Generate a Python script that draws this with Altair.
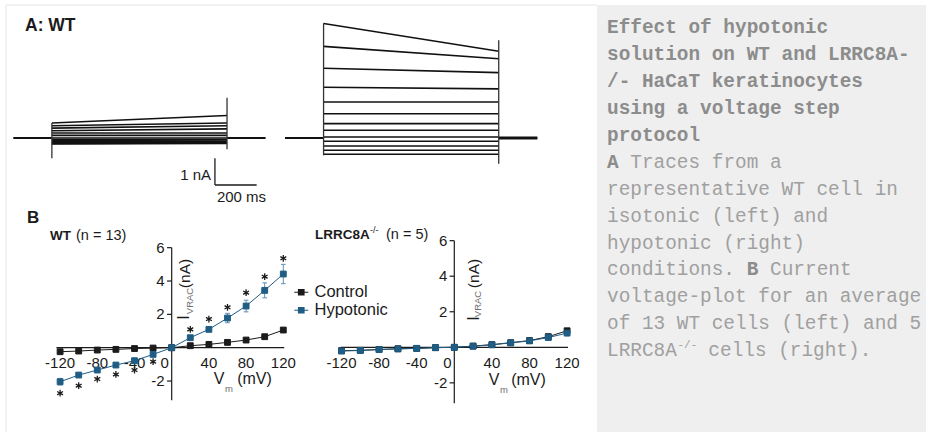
import altair as alt
import pandas as pd

# ---------------------------------------------------------------- data
# step potentials of the voltage protocol (mV)
volts = [-120, -100, -80, -60, -40, -20, 0, 20, 40, 60, 80, 100, 120]

# B, WT mean current-voltage relation (nA) and SEM
wt_control = [-0.24, -0.20, -0.14, -0.10, -0.05, -0.02, 0.00, 0.12, 0.20, 0.32, 0.46, 0.66, 1.06]
wt_control_sem = [0.04, 0.03, 0.03, 0.02, 0.02, 0.02, 0.00, 0.02, 0.03, 0.04, 0.05, 0.07, 0.10]
wt_hypo = [-2.04, -1.64, -1.34, -1.04, -0.78, -0.40, 0.00, 0.60, 1.10, 1.78, 2.50, 3.44, 4.42]
wt_hypo_sem = [0.20, 0.12, 0.12, 0.08, 0.14, 0.06, 0.00, 0.10, 0.12, 0.28, 0.35, 0.45, 0.58]

# B, LRRC8A-/- mean current-voltage relation (nA) and SEM
ko_control = [-0.19, -0.17, -0.12, -0.08, -0.06, -0.02, 0.00, 0.07, 0.15, 0.26, 0.38, 0.60, 0.93]
ko_control_sem = [0.02, 0.02, 0.02, 0.01, 0.01, 0.01, 0.00, 0.01, 0.02, 0.03, 0.04, 0.06, 0.08]
ko_hypo = [-0.21, -0.18, -0.13, -0.09, -0.06, -0.02, 0.00, 0.06, 0.14, 0.25, 0.36, 0.55, 0.80]
ko_hypo_sem = [0.02, 0.02, 0.02, 0.02, 0.01, 0.01, 0.00, 0.01, 0.02, 0.03, 0.05, 0.08, 0.15]

# significance markers (WT, hypotonic vs control): potential and drawn level (nA)
star_volts = [-120, -100, -80, -60, -40, -20, 20, 40, 60, 80, 100, 120]
star_level = [-2.73, -2.28, -1.88, -1.60, -1.34, -0.84, 1.10, 1.72, 2.42, 3.30, 4.26, 5.36]

# A, representative WT sweeps: current at step onset / step end (nA), one per potential
iso_on = [-0.22, -0.20, -0.18, -0.14, -0.10, -0.06, 0.00, 0.10, 0.19, 0.27, 0.37, 0.46, 0.56]
iso_off = [-0.20, -0.19, -0.17, -0.14, -0.11, -0.06, 0.00, 0.10, 0.19, 0.34, 0.46, 0.56, 0.84]
hypo_on = [-0.61, -0.46, -0.30, -0.12, 0.04, 0.29, 0.54, 0.91, 1.35, 1.90, 2.61, 3.43, 4.29]
hypo_off = [-0.61, -0.46, -0.30, -0.12, 0.04, 0.29, 0.54, 0.91, 1.35, 1.84, 2.45, 2.97, 3.25]

# protocol timing (ms)
t_sweep_start, t_step_on, t_step_off, t_sweep_end = 0, 185, 1025, 1210

# capacitive transients at step edges: (time, top nA, bottom nA)
iso_transients = [(t_step_on, 0.56, -0.76), (t_step_off, 1.51, -0.42)]
hypo_transients = [(t_step_on, 4.30, -0.65), (t_step_off, 3.66, -0.96)]

# calibration bar: 1 nA / 200 ms, anchored at (ms, nA)
bar_t, bar_i, bar_nA, bar_ms = 967, -0.76, 1.0, 200

y_ticks = [6, 4, 2, -2]
x_ticks = [-120, -80, -40, 40, 80, 120]

# ---------------------------------------------------------------- style
BLACK = "#1b1b1b"
BLUE = "#1f5d84"
ERR_BLUE = "#5b8fb5"
SANS = "Liberation Sans"
MONO = "Liberation Mono"
SERIES = ["Control", "Hypotonic"]


def sc(domain, rng):
    return alt.Scale(domain=domain, range=rng, nice=False, zero=False)


WT_X = sc([-130, 130], [50.8, 292.6])
WT_Y = sc([-4, 7], [414.4, 231.0])
KO_X = sc([-130, 130], [332.1, 576.5])
KO_Y = sc([-4, 7], [418.4, 222.9])
TR_Y = sc([-2, 5], [191.4, 4.5])
ISO_X = sc([0, 1210], [13.3, 265.6])
HYP_X = sc([0, 1210], [285.0, 537.3])

AST = "M0,-1L0,1M-0.87,-0.5L0.87,0.5M-0.87,0.5L0.87,-0.5"
LEG_SYMBOL = "M-1,0L1,0M-0.4,-0.4L0.4,-0.4L0.4,0.4L-0.4,0.4Z"

LEG = alt.Legend(
    orient="none", legendX=293, legendY=284, title=None,
    symbolType=LEG_SYMBOL, symbolSize=196, symbolStrokeWidth=1.1,
    labelFont=SANS, labelFontSize=16.5, labelColor=BLACK,
    rowPadding=1, labelOffset=5, padding=0, symbolOpacity=1,
)
FILL = alt.Fill("series:N", scale=alt.Scale(domain=SERIES, range=[BLACK, BLUE]), legend=LEG)
STROKE = alt.Stroke("series:N", scale=alt.Scale(domain=SERIES, range=[BLACK, BLUE]), legend=LEG)


def X(f, s):
    return alt.X(f, type="quantitative", scale=s, axis=None)


def Y(f, s):
    return alt.Y(f, type="quantitative", scale=s, axis=None)


def label(text, x, y, size, weight="normal", color=BLACK, angle=0,
          align="center", baseline="middle", font=SANS):
    return alt.Chart(pd.DataFrame({"t": [text]})).mark_text(
        font=font, fontSize=size, fontWeight=weight, color=color, angle=angle,
        align=align, baseline=baseline,
    ).encode(x=alt.value(x), y=alt.value(y), text="t:N")


# ---------------------------------------------------------------- panel A
def trace_group(xs, on, off, transients, thick_tail=False):
    layers = []
    base = pd.DataFrame({
        "seg": [0, 0, 1, 1],
        "t": [t_sweep_start, t_step_on, t_step_off, t_sweep_end],
        "i": [0, 0, 0, 0],
    })
    layers.append(alt.Chart(base).mark_line(color="#111", strokeWidth=2).encode(
        x=X("t", xs), y=Y("i", TR_Y), detail="seg:N"))
    if thick_tail:
        tail = base[base.seg == 1]
        layers.append(alt.Chart(tail).mark_line(color="#111", strokeWidth=3.2).encode(
            x=X("t", xs), y=Y("i", TR_Y)))
    rows = []
    for k, v in enumerate(volts):
        rows.append({"sweep": v, "t": t_step_on, "i": on[k]})
        rows.append({"sweep": v, "t": t_step_off, "i": off[k]})
    layers.append(alt.Chart(pd.DataFrame(rows)).mark_line(color="#111", strokeWidth=1.6).encode(
        x=X("t", xs), y=Y("i", TR_Y), detail="sweep:N"))
    tr = pd.DataFrame(transients, columns=["t", "top", "bot"])
    layers.append(alt.Chart(tr).mark_rule(color="#333", strokeWidth=1.3).encode(
        x=X("t", xs), y=Y("top", TR_Y), y2="bot:Q"))
    return layers


layers = []

# frame and caption panel
layers.append(alt.Chart(pd.DataFrame({"a": [0]})).mark_rect(color="#efefef").encode(
    x=alt.value(597), x2=alt.value(926), y=alt.value(5), y2=alt.value(432)))
layers.append(alt.Chart(pd.DataFrame({"a": [0]})).mark_rule(color="#e6e6e6", strokeWidth=1).encode(
    x=alt.value(6), x2=alt.value(597), y=alt.value(5)))
layers.append(alt.Chart(pd.DataFrame({"a": [0]})).mark_rule(color="#e6e6e6", strokeWidth=1).encode(
    x=alt.value(6), y=alt.value(5), y2=alt.value(432)))

layers += trace_group(ISO_X, iso_on, iso_off, iso_transients)
layers += trace_group(HYP_X, hypo_on, hypo_off, hypo_transients, thick_tail=True)

# calibration bar
bar = pd.DataFrame({"t0": [bar_t, bar_t], "t1": [bar_t, bar_t + bar_ms],
                    "i0": [bar_i, bar_i - bar_nA], "i1": [bar_i - bar_nA, bar_i - bar_nA]})
layers.append(alt.Chart(bar).mark_rule(color=BLACK, strokeWidth=1.3).encode(
    x=X("t0", ISO_X), x2="t1:Q", y=Y("i0", TR_Y), y2="i1:Q"))
layers.append(label("1 nA", 211, 175, 15, align="right"))
layers.append(label("200 ms", 241.5, 197, 15))
layers.append(label("A: WT", 25, 26, 17.5, weight="bold", align="left"))


# ---------------------------------------------------------------- panel B
def iv_panel(xs, ys, ctl, ctl_sem, hyp, hyp_sem, ybot, xl, stars=False):
    out = []
    # axes through the origin
    out.append(alt.Chart(pd.DataFrame({"a": [xl[0]], "b": [xl[1]], "z": [0]})).mark_rule(
        color=BLACK, strokeWidth=1.2).encode(x=X("a", xs), x2="b:Q", y=Y("z", ys)))
    out.append(alt.Chart(pd.DataFrame({"a": [ybot], "b": [6], "z": [0]})).mark_rule(
        color=BLACK, strokeWidth=1.2).encode(x=X("z", xs), y=Y("a", ys), y2="b:Q"))
    yt = pd.DataFrame({"y": y_ticks, "a": [-5] * len(y_ticks), "b": [0] * len(y_ticks),
                       "lab": [str(v) for v in y_ticks], "z": [0] * len(y_ticks)})
    out.append(alt.Chart(yt).mark_rule(color=BLACK, strokeWidth=1.2).encode(
        x=X("a", xs), x2="b:Q", y=Y("y", ys)))
    out.append(alt.Chart(yt).mark_text(font=SANS, fontSize=15, color=BLACK, align="right",
                                       baseline="middle", dx=-7).encode(
        x=X("z", xs), y=Y("y", ys), text="lab:N"))
    xt = pd.DataFrame({"x": x_ticks, "lab": [str(v) for v in x_ticks], "z": [0] * len(x_ticks)})
    out.append(alt.Chart(xt).mark_text(font=SANS, fontSize=15, color=BLACK, align="center",
                                       baseline="middle", dy=15.5).encode(
        x=X("x", xs), y=Y("z", ys), text="lab:N"))
    out.append(alt.Chart(pd.DataFrame({"x": [0], "lab": ["0"], "z": [0]})).mark_text(
        font=SANS, fontSize=15, color=BLACK, align="center", baseline="middle",
        dy=15.5, dx=-7).encode(x=X("x", xs), y=Y("z", ys), text="lab:N"))

    df = pd.concat([
        pd.DataFrame({"v": volts, "i": ctl, "sem": ctl_sem, "series": "Control"}),
        pd.DataFrame({"v": volts, "i": hyp, "sem": hyp_sem, "series": "Hypotonic"}),
    ], ignore_index=True)
    df["lo"] = df["i"] - df["sem"]
    df["hi"] = df["i"] + df["sem"]
    df["cl"] = df["v"] - 2.5
    df["cr"] = df["v"] + 2.5

    for name, col, ecol in [("Control", BLACK, "#555"), ("Hypotonic", BLUE, ERR_BLUE)]:
        d = df[df.series == name]
        out.append(alt.Chart(d).mark_rule(color=ecol, strokeWidth=1).encode(
            x=X("v", xs), y=Y("lo", ys), y2="hi:Q"))
        for end in ["lo", "hi"]:
            out.append(alt.Chart(d).mark_rule(color=ecol, strokeWidth=1).encode(
                x=X("cl", xs), x2="cr:Q", y=Y(end, ys)))
        out.append(alt.Chart(d).mark_line(color=col, strokeWidth=1).encode(
            x=X("v", xs), y=Y("i", ys)))

    out.append(alt.Chart(df).mark_point(shape="square", filled=True, size=34, strokeWidth=1,
                                        opacity=1).encode(
        x=X("v", xs), y=Y("i", ys), fill=FILL, stroke=STROKE))
    if stars:
        st = pd.DataFrame({"v": star_volts, "i": star_level})
        out.append(alt.Chart(st).mark_point(shape=AST, filled=False, size=46, color=BLACK,
                                            strokeWidth=1.3, opacity=1).encode(
            x=X("v", xs), y=Y("i", ys)))
    return out


layers += iv_panel(WT_X, WT_Y, wt_control, wt_control_sem, wt_hypo, wt_hypo_sem,
                   -3.15, [-124, 121], stars=True)
layers += iv_panel(KO_X, KO_Y, ko_control, ko_control_sem, ko_hypo, ko_hypo_sem,
                   -3.15, [-121, 121])

# panel B titles and axis titles
layers.append(label("B", 27, 218, 17, weight="bold", align="left"))
layers.append(label("WT", 50, 236, 13.5, weight="bold", align="left"))
layers.append(label("(n = 13)", 76, 236, 14.5, align="left"))
layers.append(label("LRRC8A", 315, 235, 13.5, weight="bold", align="left"))
layers.append(label("-/-", 370, 230, 9, align="left"))
layers.append(label("(n = 5)", 386, 235, 14.5, align="left"))

for (ix, iy, sx, sy, nx, ny) in [(184, 317.5, 189.5, 301, 185, 273.5),
                                  (473.5, 318.5, 478, 304, 473.5, 273.5)]:
    layers.append(label("I", ix, iy, 16, angle=270))
    layers.append(label("VRAC", sx, sy, 9.5, color="#6f6f6f", angle=270))
    layers.append(label("(nA)", nx, ny, 15.5, angle=270))

for (vx, vy, mx, my, px) in [(219, 379, 229, 389, 254.5), (494, 380, 504, 390, 528.5)]:
    layers.append(label("V", vx, vy, 16))
    layers.append(label("m", mx, my, 9.5, color="#6f6f6f"))
    layers.append(label("(mV)", px, vy, 16))

# ---------------------------------------------------------------- caption text
LINE_Y = sc([0, 12], [33.3, 33.3 + 12 * 26.9])
COL_X = sc([0, 27], [607, 607 + 27 * 11.65])

caption_bold = [
    (0, 0, "Effect of hypotonic"),
    (1, 0, "solution on WT and LRRC8A-"),
    (2, 0, "/- HaCaT keratinocytes"),
    (3, 0, "using a voltage step"),
    (4, 0, "protocol"),
    (5, 0, "A"),
    (9, 12, "B"),
]
caption_regular = [
    (5, 2, "Traces from a"),
    (6, 0, "representative WT cell in"),
    (7, 0, "isotonic (left) and"),
    (8, 0, "hypotonic (right)"),
    (9, 0, "conditions."),
    (9, 14, "Current"),
    (10, 0, "voltage-plot for an average"),
    (11, 0, "of 13 WT cells (left) and 5"),
    (12, 0, "LRRC8A"),
    (12, 8.7, "cells (right)."),
]
caption_super = [(12, 6.05, "-/-")]

for rows, weight, color, size, dy in [
    (caption_bold, "bold", "#8c8c8c", 19.4, 0),
    (caption_regular, "normal", "#a0a0a0", 19.4, 0),
    (caption_super, "normal", "#a0a0a0", 11, -8),
]:
    d = pd.DataFrame(rows, columns=["line", "col", "text"])
    layers.append(alt.Chart(d).mark_text(font=MONO, fontSize=size, fontWeight=weight, color=color,
                                         align="left", baseline="alphabetic", dy=dy).encode(
        x=X("col", COL_X), y=Y("line", LINE_Y), text="text:N"))

chart = alt.layer(*layers).resolve_scale(x="independent", y="independent").properties(
    width=926, height=432, padding=0, background="white",
    autosize=alt.AutoSizeParams(type="none"),
).configure_view(stroke=None)

chart.save("out.html", embed_options={"renderer": "svg", "actions": False})
